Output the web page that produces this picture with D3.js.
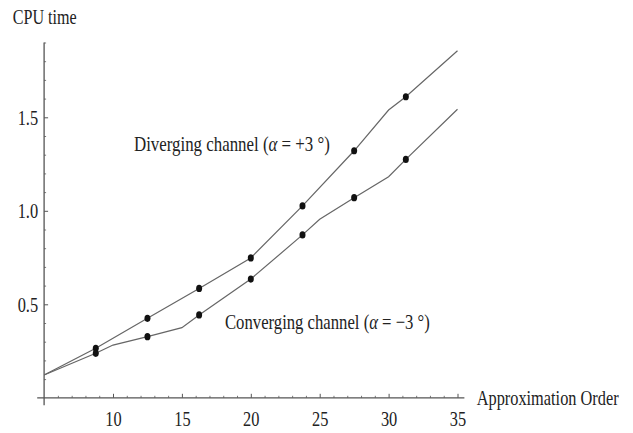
<!DOCTYPE html>
<html>
<head>
<meta charset="utf-8">
<script src="https://cdn.jsdelivr.net/npm/d3@7"></script>
<style>
  html, body { margin: 0; padding: 0; background: #fff; }
  svg { display: block; }
  svg text { font-family: "Times New Roman", "Liberation Serif", "DejaVu Serif", serif !important; fill: #222; }
</style>
</head>
<body>
<svg id="chart" width="633" height="433"></svg>
<script>
// ---- data ----
const markerOrders = [8.75, 12.5, 16.25, 20, 23.75, 27.5, 31.25];
const divergingMarkers = [0.265, 0.425, 0.585, 0.748, 1.026, 1.321, 1.610];
const convergingMarkers = [0.238, 0.327, 0.443, 0.635, 0.871, 1.070, 1.275];

const divergingLineX = [5, 8.75, 12.5, 16.25, 20, 23.75, 27.5, 30, 31.25, 35];
const divergingLineY = [0.122, 0.265, 0.425, 0.585, 0.748, 1.026, 1.321, 1.539, 1.610, 1.856];
const convergingLineX = [5, 8.75, 10, 12.5, 15, 16.25, 20, 23.75, 25, 27.5, 30, 31.25, 35];
const convergingLineY = [0.122, 0.238, 0.282, 0.327, 0.375, 0.443, 0.635, 0.871, 0.955, 1.070, 1.182, 1.275, 1.543];

const xMajorTicks = [10, 15, 20, 25, 30, 35];
const yMajorTicks = [0.5, 1.0, 1.5];
const yTickLabels = ["0.5", "1.0", "1.5"];

// ---- scales ----
const svg = d3.select("#chart");
const x = d3.scaleLinear().domain([5, 35]).range([44.1, 457.5]);
const y = d3.scaleLinear().domain([0, 1.5]).range([397.8, 117.3]);

const axisColor = "#555";
const lineColor = "#666";

// axis lines
svg.append("line")
  .attr("x1", x(4.5)).attr("x2", x(35.5))
  .attr("y1", y(0)).attr("y2", y(0))
  .attr("stroke", axisColor).attr("stroke-width", 1.3);
svg.append("line")
  .attr("x1", x(5)).attr("x2", x(5))
  .attr("y1", y(-0.04)).attr("y2", y(1.9))
  .attr("stroke", axisColor).attr("stroke-width", 1.3);

// minor ticks
const xMinor = d3.range(6, 36, 1).filter(v => !xMajorTicks.includes(v));
const yMinor = d3.range(1, 20, 1).map(v => v / 10).filter(v => !yMajorTicks.some(t => Math.abs(t - v) < 1e-9));

const gx = svg.append("g").attr("transform", `translate(0,${y(0)})`);
gx.call(d3.axisBottom(x).tickValues(xMinor).tickSizeInner(-2).tickSizeOuter(0).tickFormat(""));
gx.select(".domain").remove();
gx.selectAll("line").attr("stroke", axisColor).attr("stroke-width", 0.8);

const gxM = svg.append("g").attr("transform", `translate(0,${y(0)})`);
gxM.call(d3.axisBottom(x).tickValues(xMajorTicks).tickSizeInner(-4).tickSizeOuter(0).tickPadding(15).tickFormat(d3.format("d")));
gxM.select(".domain").remove();
gxM.selectAll("line").attr("stroke", axisColor).attr("stroke-width", 1);
gxM.selectAll("text")
  .attr("font-size", 21).attr("fill", "#222")
  .attr("transform", "scale(0.78,1)")
  .attr("x", 0)
  .attr("dy", "0.62em");

const gy = svg.append("g").attr("transform", `translate(${x(5)},0)`);
gy.call(d3.axisLeft(y).tickValues(yMinor).tickSizeInner(-2).tickSizeOuter(0).tickFormat(""));
gy.select(".domain").remove();
gy.selectAll("line").attr("stroke", axisColor).attr("stroke-width", 0.8);

const gyM = svg.append("g").attr("transform", `translate(${x(5)},0)`);
gyM.call(d3.axisLeft(y).tickValues(yMajorTicks).tickSizeInner(-4).tickSizeOuter(0).tickPadding(6)
  .tickFormat((d, i) => yTickLabels[i]));
gyM.select(".domain").remove();
gyM.selectAll("line").attr("stroke", axisColor).attr("stroke-width", 1);
gyM.selectAll("text")
  .attr("font-size", 21).attr("fill", "#222")
  .attr("transform", "scale(0.78,1)")
  .attr("x", -6 / 0.78)
  .attr("dy", "0.34em");

// lines
const line = d3.line().x(d => x(d[0])).y(d => y(d[1]));
svg.append("path")
  .datum(d3.zip(divergingLineX, divergingLineY))
  .attr("d", line).attr("fill", "none").attr("stroke", lineColor).attr("stroke-width", 1.2);
svg.append("path")
  .datum(d3.zip(convergingLineX, convergingLineY))
  .attr("d", line).attr("fill", "none").attr("stroke", lineColor).attr("stroke-width", 1.2);

// markers
[divergingMarkers, convergingMarkers].forEach(vals => {
  svg.append("g").selectAll("ellipse")
    .data(d3.zip(markerOrders, vals))
    .join("ellipse")
    .attr("cx", d => x(d[0])).attr("cy", d => y(d[1]))
    .attr("rx", 3).attr("ry", 3.6)
    .attr("fill", "#111");
});

// labels: fit natural width into target width with a horizontal scale
function label(txt, px, py, width, size, parts) {
  const g = svg.append("g");
  const t = g.append("text").attr("x", 0).attr("y", 0).attr("font-size", size);
  if (parts) {
    parts.forEach(p => {
      const s = t.append("tspan").text(p[0]);
      if (p[1]) s.attr("font-style", "italic");
    });
  } else {
    t.text(txt);
  }
  const w = t.node().getComputedTextLength();
  const sx = width / w;
  g.attr("transform", `translate(${px},${py}) scale(${sx},1)`);
  return g;
}
label("CPU time", 12.7, 24, 64, 21);
label("Approximation Order", 476.7, 405, 142, 20);
label(null, 134, 151, 196, 21, [["Diverging channel ("], ["α", true], [" = +3 °)"]]);
label(null, 225, 329, 205, 21, [["Converging channel ("], ["α", true], [" = −3 °)"]]);
</script>
</body>
</html>
